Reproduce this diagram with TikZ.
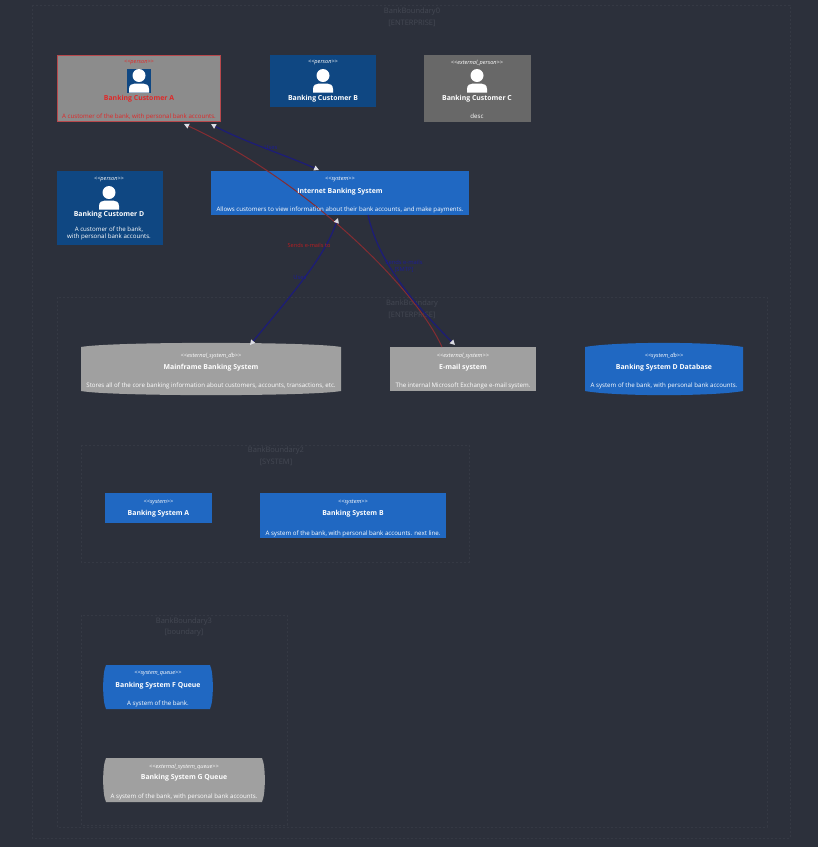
\documentclass[tikz,border=0pt]{standalone}
\usepackage{fontspec}
\setmainfont{Open Sans}
\usetikzlibrary{arrows.meta}
\definecolor{bgc}{HTML}{2C303B}
\definecolor{persc}{HTML}{0F4782}
\definecolor{sysc}{HTML}{2068C2}
\definecolor{extc}{HTML}{A0A0A0}
\definecolor{extpc}{HTML}{686868}
\definecolor{grayc}{HTML}{8C8C8C}
\definecolor{bndc}{HTML}{353944}
\definecolor{bndt}{HTML}{444853}
\definecolor{relb}{HTML}{1D1D75}
\definecolor{relbt}{HTML}{1C1C96}
\definecolor{relr}{HTML}{842C32}
\definecolor{relrt}{HTML}{B81E22}
\definecolor{redt}{HTML}{E02828}
\definecolor{redb}{HTML}{B8484C}
\definecolor{tipc}{HTML}{DCDCE4}
\tikzset{
  x=1pt,y=-1pt,
  boxnode/.style={anchor=north west,inner sep=0pt,outer sep=0pt},
  bnd/.style={draw=bndc,line width=.6pt,dash pattern=on 2pt off 2pt},
  bndlab/.style={text=bndt,font=\fontsize{7.5}{8}\selectfont,inner sep=0pt,yshift=-1pt},
  stereo/.style={text=white,font=\fontsize{5.6}{6}\selectfont\itshape,inner sep=0pt,yshift=-.8pt},
  ttl/.style={text=white,font=\fontsize{6.9}{8}\selectfont\bfseries,inner sep=0pt,yshift=-.8pt},
  desc/.style={text=white,font=\fontsize{6.15}{7}\selectfont,inner sep=0pt,align=center,yshift=-.5pt},
  relblue/.style={draw=relb,line width=1.3pt},
  relred/.style={draw=relr,line width=1pt},
  tipend/.style={-{Triangle[length=5pt,width=5pt,color=tipc]}},
  tipboth/.style={{Triangle[length=5pt,width=5pt,color=tipc]}-{Triangle[length=5pt,width=5pt,color=tipc]}},
  lblue/.style={text=relbt,font=\fontsize{5.8}{6}\selectfont,inner sep=0pt},
  lred/.style={text=relrt,font=\fontsize{5.6}{6}\selectfont,inner sep=0pt},
}
\newcommand{\mybox}[6]{% name x1 y1 x2 y2 fill
  \pgfmathsetmacro{\bw}{#4-#2}\pgfmathsetmacro{\bh}{#5-#3}
  \node[boxnode,fill=#6,minimum width=\bw pt,minimum height=\bh pt] (#1) at (#2,#3) {};}
\newcommand{\mycyl}[6]{% name x1 y1 x2 y2 fill
  \node[boxnode,minimum width=#4pt-#2pt,minimum height=#5pt-#3pt] (#1) at (#2,#3) {};
  \fill[#6] (#2,#3+5) .. controls (#2+30,#3-.5) and (#4-30,#3-.5) .. (#4,#3+5)
    -- (#4,#5-5) .. controls (#4-30,#5+.5) and (#2+30,#5+.5) .. (#2,#5-5) -- cycle;}
\newcommand{\myqueue}[6]{% name x1 y1 x2 y2 fill
  \node[boxnode,minimum width=#4pt-#2pt,minimum height=#5pt-#3pt] (#1) at (#2,#3) {};
  \fill[#6] (#2+3,#3) -- (#4-3,#3) .. controls (#4+.8,#3+8) and (#4+.8,#5-8) .. (#4-3,#5)
    -- (#2+3,#5) .. controls (#2-.8,#5-8) and (#2-.8,#3+8) .. (#2+3,#3) -- cycle;}
\newcommand{\myicon}[2]{% centre x, top y of head
  \fill[white] (#1,#2+6.5) circle[radius=6.5pt];
  \fill[white] (#1-10,#2+23.5) -- (#1-10,#2+20) .. controls (#1-10,#2+16) and (#1-7,#2+14.5) .. (#1-4,#2+14.5)
    -- (#1+4,#2+14.5) .. controls (#1+7,#2+14.5) and (#1+10,#2+16) .. (#1+10,#2+20)
    -- (#1+10,#2+23.5) -- cycle;}
\begin{document}
\begin{tikzpicture}
\useasboundingbox (0,0) rectangle (818,847);
\fill[bgc] (0,0) rectangle (818,847);
% boundaries
\draw[bnd] (32,5) rectangle (790,838);
\draw[bnd] (57,297) rectangle (767,827);
\draw[bnd] (81,445) rectangle (469,562);
\draw[bnd] (81,615) rectangle (287,825);
\node[bndlab] (b0a) at (412,11) {BankBoundary0};
\node[bndlab] (b0b) at (412,22) {[ENTERPRISE]};
\node[bndlab] (b1a) at (412,303) {BankBoundary};
\node[bndlab] (b1b) at (412,314) {[ENTERPRISE]};
\node[bndlab] (b2a) at (276,450) {BankBoundary2};
\node[bndlab] (b2b) at (276,461) {[SYSTEM]};
\node[bndlab] (b3a) at (184,621) {BankBoundary3};
\node[bndlab] (b3b) at (184,632) {[boundary]};
% boxes
\mybox{custA}{57}{55}{221}{122}{grayc}
\draw[draw=redb,line width=.7pt] (57.5,55.5) rectangle (220.5,121.5);
\mybox{custB}{270}{55}{376}{107}{persc}
\mybox{custC}{424}{55}{531}{122}{extpc}
\mybox{custD}{57}{171}{163}{245}{persc}
\mybox{ibs}{211}{171}{469}{215}{sysc}
\mycyl{mainf}{81}{342}{341}{396}{extc}
\mybox{email}{390}{347}{536}{391}{extc}
\mycyl{sysd}{585}{342}{743}{396}{sysc}
\mybox{sysa}{105}{493}{212}{523}{sysc}
\mybox{sysb}{260}{493}{446}{538}{sysc}
\myqueue{sysf}{103}{665}{213}{709}{sysc}
\myqueue{sysg}{103}{758}{265}{802}{extc}
% connectors
\draw[relred,tipend] ([xshift=-21pt]email.north) .. controls (415,287) and (305,180) .. ([xshift=45pt,yshift=-2pt]custA.south);
\draw[relblue,tipboth] ([xshift=72pt,yshift=-2pt]custA.south) .. controls (240,140) and (285,155) .. ([xshift=-21pt,yshift=1pt]ibs.north);
\draw[relblue,tipboth] ([xshift=-2pt,yshift=-3pt]ibs.south) .. controls (325,255) and (300,285) .. ([xshift=39pt,yshift=-3pt]mainf.north);
\draw[relblue,tipend] ([xshift=28pt]ibs.south) .. controls (378,260) and (410,300) .. ([xshift=-8pt,yshift=2pt]email.north);
\node[lblue] (l1) at (271,147) {Uses};
\node[lblue] (l2) at (300,277) {Uses};
\node[lblue] (l3) at (404,262) {Sends e-mails};
\node[lblue] (l4) at (404,270) {[SMTP]};
\node[lred] (l5) at (309,245) {Sends e-mails to};
% customer A
\fill[persc] (127,69) rectangle (151,93);
\myicon{139}{69}
\node[stereo,text=redt] at (139,62) {<{}<person>{}>};
\node[ttl,text=redt] at (139,98) {Banking Customer A};
\node[desc,text=redt] at (139,116) {A customer of the bank, with personal bank accounts.};
% customer B
\myicon{323}{69}
\node[stereo] at (323,62) {<{}<person>{}>};
\node[ttl] at (323,98) {Banking Customer B};
% customer C
\myicon{477}{69}
\node[stereo] at (477,62) {<{}<external\_person>{}>};
\node[ttl] at (477,98) {Banking Customer C};
\node[desc] at (477,116) {desc};
% customer D
\myicon{109}{186}
\node[stereo] at (109,179) {<{}<person>{}>};
\node[ttl] at (109,214) {Banking Customer D};
\node[desc] at (109,232.5) {A customer of the bank,\\with personal bank accounts.};
% IBS
\node[stereo] at (340,179) {<{}<system>{}>};
\node[ttl] at (340,191) {Internet Banking System};
\node[desc] at (340,209.5) {Allows customers to view information about their bank accounts, and make payments.};
% mainframe
\node[stereo] at (211,355) {<{}<external\_system\_db>{}>};
\node[ttl] at (211,367) {Mainframe Banking System};
\node[desc] at (211,385) {Stores all of the core banking information about customers, accounts, transactions, etc.};
% email
\node[stereo] at (463,355) {<{}<external\_system>{}>};
\node[ttl] at (463,367) {E-mail system};
\node[desc] at (463,385) {The internal Microsoft Exchange e-mail system.};
% sys D
\node[stereo] at (664,355) {<{}<system\_db>{}>};
\node[ttl] at (664,367) {Banking System D Database};
\node[desc] at (664,385) {A system of the bank, with personal bank accounts.};
% sys A
\node[stereo] at (158.5,502) {<{}<system>{}>};
\node[ttl] at (158.5,513) {Banking System A};
% sys B
\node[stereo] at (353,502) {<{}<system>{}>};
\node[ttl] at (353,513) {Banking System B};
\node[desc] at (353,533) {A system of the bank, with personal bank accounts. next line.};
% sys F
\node[stereo] at (158,673) {<{}<system\_queue>{}>};
\node[ttl] at (158,685) {Banking System F Queue};
\node[desc] at (158,703) {A system of the bank.};
% sys G
\node[stereo] at (184,766) {<{}<external\_system\_queue>{}>};
\node[ttl] at (184,777) {Banking System G Queue};
\node[desc] at (184,796) {A system of the bank, with personal bank accounts.};
\end{tikzpicture}
\end{document}
